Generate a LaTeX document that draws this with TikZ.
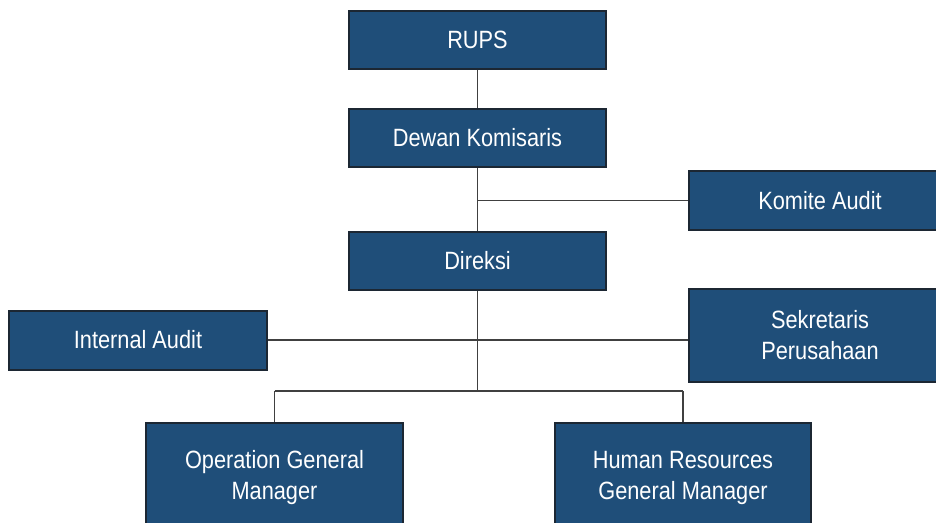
\documentclass[tikz,border=0pt]{standalone}
\usepackage{fontspec}
\setmainfont{Liberation Sans}[FakeStretch=0.87]
\definecolor{boxfill}{HTML}{1F4E79}
\definecolor{boxline}{HTML}{1C2733}
\definecolor{conn}{HTML}{404040}
\begin{document}
\begin{tikzpicture}[x=1pt,y=-1pt,
  orgbox/.style={draw=boxline,line width=2pt,fill=boxfill,text=white,
    inner sep=0pt,align=center,font=\fontsize{25}{31}\selectfont},
  link/.style={draw=conn,line width=1.4pt}]
\useasboundingbox (0,0) rectangle (936,522);
\node[orgbox,minimum width=257pt,minimum height=58pt] (rups) at (477.5,39.5) {RUPS};
\node[orgbox,minimum width=257pt,minimum height=58pt] (dewan) at (477.5,137.5) {Dewan Komisaris};
\node[orgbox,minimum width=262pt,minimum height=59pt] (komite) at (820,200.5) {Komite Audit};
\node[orgbox,minimum width=257pt,minimum height=58pt] (direksi) at (477.5,260.5) {Direksi};
\node[orgbox,minimum width=258pt,minimum height=59pt] (ia) at (138,340) {Internal Audit};
\node[orgbox,minimum width=262pt,minimum height=93pt] (sek) at (820,335.5) {Sekretaris\\Perusahaan};
\node[orgbox,minimum width=257pt,minimum height=110pt] (op) at (274.5,477.5) {Operation General\\Manager};
\node[orgbox,minimum width=256pt,minimum height=110pt] (hr) at (683,477.5) {Human Resources\\General Manager};
\coordinate (jn) at (477.5,391);
\draw[link] (rups.south) -- (dewan.north);
\draw[link] (dewan.south) -- (direksi.north);
\draw[link] (dewan.south |- komite.west) -- (komite.west);
\draw[link] (ia.east) -- (ia.east -| sek.west);
\draw[link] (direksi.south) -- (jn);
\draw[link] (op.north |- jn) -- (hr.north |- jn);
\draw[link] (op.north |- jn) -- (op.north);
\draw[link] (hr.north |- jn) -- (hr.north);
\end{tikzpicture}
\end{document}
